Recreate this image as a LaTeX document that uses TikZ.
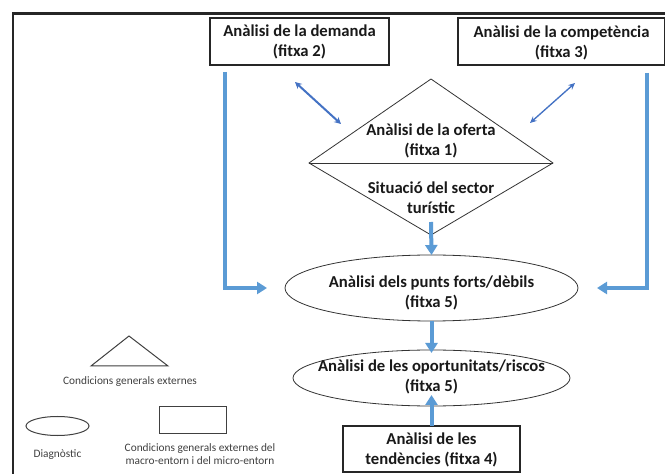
\documentclass[tikz,border=0pt]{standalone}
\usepackage{fontspec}
\setmainfont{Carlito}
\usetikzlibrary{arrows.meta,shapes.geometric}
\definecolor{bluearr}{HTML}{5B9BD5}
\definecolor{bluedbl}{HTML}{4472C4}
\begin{document}
\begin{tikzpicture}[x=0.75pt,y=-0.75pt,
 every node/.style={inner sep=0pt,outer sep=0pt},
 box/.style={draw=black!85, line width=0.9pt, rectangle},
 shapeln/.style={draw=black!80, line width=0.6pt},
 main/.style={font=\fontsize{12.5}{15}\selectfont\bfseries, align=center, text=black!90},
 legtext/.style={font=\fontsize{8.5}{9.5}\selectfont, align=center, text=black!75},
 flow/.style={draw=bluearr, line width=3pt, -{Triangle[length=7.5pt,width=9pt]}},
 dblthick/.style={draw=bluedbl, line width=1.5pt, {Stealth[length=5pt,width=5pt]}-{Stealth[length=5pt,width=5pt]}},
 dblthin/.style={draw=bluedbl, line width=1pt, {Stealth[length=5pt,width=4.5pt]}-{Stealth[length=5pt,width=4.5pt]}},
]
\useasboundingbox (0,0) rectangle (665,474);
\fill[white] (0,0) rectangle (665,474);

% outer frame
\draw[line width=1.6pt, black!85] (13,480) -- (13,13.5) -- (670,13.5);

% top boxes
\node[box, main, minimum width=134.25pt, minimum height=35.25pt] (dem) at (299.5,41.5) {Anàlisi de la demanda\\(fitxa 2)};
\node[box, minimum width=155.25pt, minimum height=35.25pt] (comp) at (561.5,41.5) {};
\node[main] (compt) at (561.5,43) {Anàlisi de la competència\\(fitxa 3)};

% diamond
\coordinate (dtop) at (431,79);
\coordinate (dright) at (553,163);
\coordinate (dbot) at (431,235);
\coordinate (dleft) at (309,163);
\draw[shapeln] (dtop) -- (dright) -- (dbot) -- (dleft) -- cycle;
\draw[shapeln] (dleft) -- (dright);
\node[main] (oferta) at (431,141) {Anàlisi de la oferta\\(fitxa 1)};
\node[main] (sector) at (431,197.5) {Situació del sector\\turístic};

% ellipses
\node[shapeln, ellipse, minimum width=219.75pt, minimum height=49.5pt] (e1) at (431.5,288) {};
\node[main] (e1t) at (431.5,292.5) {Anàlisi dels punts forts/dèbils\\(fitxa 5)};
\node[shapeln, ellipse, minimum width=207.75pt, minimum height=42pt] (e2) at (431.5,378) {};
\node[main] (e2t) at (431.5,377) {Anàlisi de les oportunitats/riscos\\(fitxa 5)};

% bottom box
\node[box, minimum width=132.75pt, minimum height=34.5pt] (tend) at (431.5,449) {};
\node[main] (tendt) at (431.5,450) {Anàlisi de les\\tendències (fitxa 4)};

% flow arrows
\coordinate (lsrc) at (225,72);
\coordinate (rsrc) at (647,73);
\coordinate (dsrc) at (431,222);
\draw[flow] (lsrc) |- ([xshift=-13.5pt]e1.west);
\draw[flow] (rsrc) |- ([xshift=14.25pt]e1.east);
\draw[flow] (dsrc) -- (e1.north);
\draw[flow] (e1.south) -- ([yshift=-2.25pt]e2.north);
\draw[flow, shorten >=-8.25pt] (tend.north) -- (e2.south);

% double arrows
\coordinate (da1) at (295,82);
\coordinate (da2) at (341,124);
\coordinate (ca1) at (575,83);
\coordinate (ca2) at (530,123);
\draw[dblthick] (da1) -- (da2);
\draw[dblthin] (ca1) -- (ca2);

% legend
\coordinate (ltop) at (129,336);
\coordinate (lbl) at (91,366);
\coordinate (lbr) at (168,366);
\draw[draw=black!75, line width=0.75pt] (ltop) -- (lbr) -- (lbl) -- cycle;
\node[legtext] (ltri) at (130,382) {Condicions generals externes};
\node[draw=black!75, line width=0.75pt, ellipse, minimum width=47.25pt, minimum height=14.25pt] (lell) at (57.5,426) {};
\node[legtext] (lellt) at (57.5,455) {Diagnòstic};
\node[draw=black!75, line width=0.75pt, rectangle, minimum width=50.25pt, minimum height=19.5pt] (lrect) at (192.5,420) {};
\node[legtext] (lrectt) at (200,454) {Condicions generals externes del\\macro-entorn i del micro-entorn};
\end{tikzpicture}
\end{document}
